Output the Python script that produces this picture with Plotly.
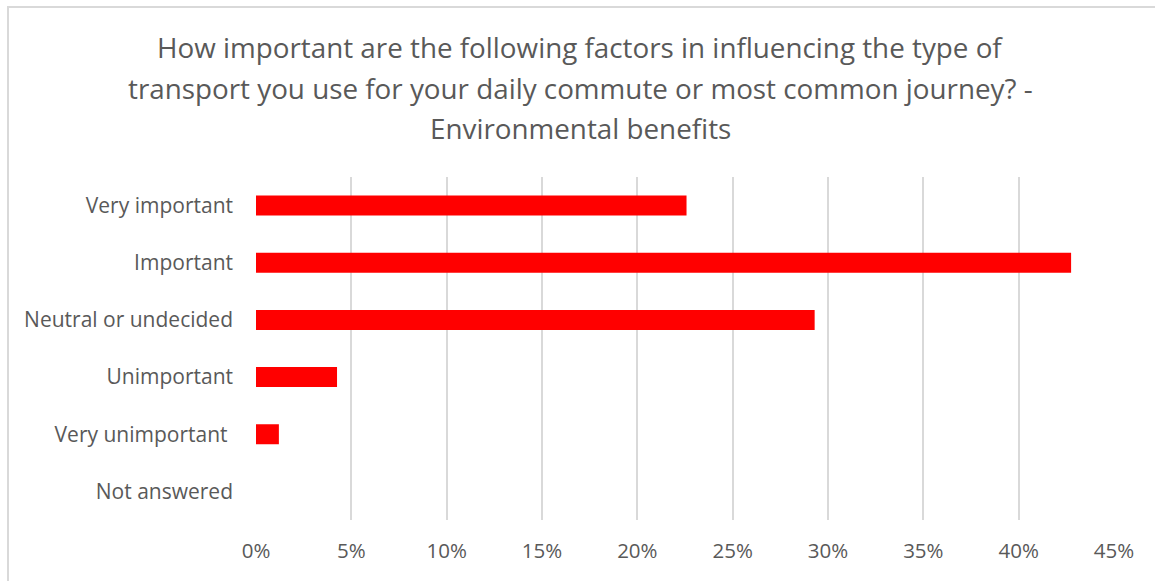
import plotly.graph_objects as go

categories = ["Very important", "Important", "Neutral or undecided", "Unimportant",
              "Very unimportant ", "Not answered"]
values = [0.2258, 0.4275, 0.2930, 0.0425, 0.0120, 0.0]
tick_vals = [0, 0.05, 0.10, 0.15, 0.20, 0.25, 0.30, 0.35, 0.40, 0.45]
tick_text = ["0%", "5%", "10%", "15%", "20%", "25%", "30%", "35%", "40%", "45%"]
title_lines = ["How important are the following factors in influencing the type of",
               "transport you use for your daily commute or most common journey? -",
               "Environmental benefits"]

W, H = 1155, 581
L, R, T, B = 256, 41, 177, 61
pw, ph = W - L - R, H - T - B

fig = go.Figure(go.Bar(
    x=values, y=categories, orientation="h",
    marker=dict(color="#FF0000", line=dict(width=0)),
    hoverinfo="x+y",
))

title_y_px = [47, 88, 128]
annotations = []
for line, ypx in zip(title_lines, title_y_px):
    annotations.append(dict(
        text=line, xref="paper", yref="paper",
        x=(580 - L) / pw, y=(H - B - ypx) / ph,
        xanchor="center", yanchor="middle", showarrow=False,
        font=dict(size=27.8, color="#595959", family="Open Sans"),
    ))

fig.update_layout(
    width=W, height=H,
    margin=dict(l=L, r=R, t=T, b=B, autoexpand=False),
    paper_bgcolor="white", plot_bgcolor="white",
    font=dict(family="Open Sans", color="#595959"),
    bargap=0.65,
    showlegend=False,
    annotations=annotations,
    xaxis=dict(range=[0, 0.45], tickvals=tick_vals, ticktext=tick_text,
               showgrid=True, gridcolor="#D9D9D9", gridwidth=2, zeroline=False,
               showline=False, ticks="", tickfont=dict(size=20.5, color="#595959"),
               ticklabelstandoff=16, fixedrange=True),
    yaxis=dict(categoryorder="array", categoryarray=categories[::-1],
               autorange=False, range=[-0.5, 5.5],
               showgrid=False, zeroline=False, showline=False, ticks="",
               tickfont=dict(size=21, color="#595959"), ticklabelstandoff=22,
               fixedrange=True),
    shapes=[
        dict(type="line", xref="paper", yref="paper",
             x0=(7 - L) / pw, x1=(W + 5 - L) / pw,
             y0=(H - B - 7) / ph, y1=(H - B - 7) / ph,
             line=dict(color="#D9D9D9", width=2)),
        dict(type="line", xref="paper", yref="paper",
             x0=(8 - L) / pw, x1=(8 - L) / pw,
             y0=(H - B - 7) / ph, y1=(H - B - H - 10) / ph,
             line=dict(color="#D9D9D9", width=2)),
    ],
)

fig.write_html("out.html")
